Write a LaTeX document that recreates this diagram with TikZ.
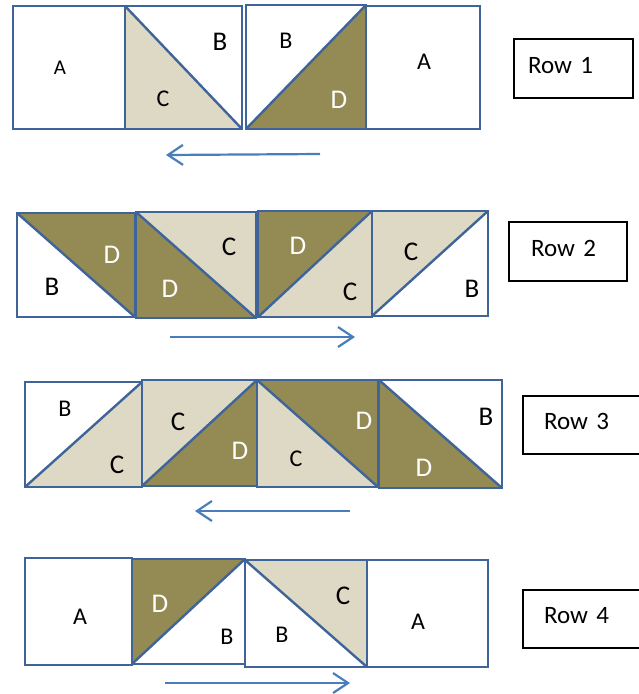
\documentclass[tikz,border=0pt]{standalone}
\usepackage{fontspec}
\setmainfont{Carlito}
\usetikzlibrary{arrows.meta}
\definecolor{qblue}{HTML}{3F649A}
\definecolor{qolive}{HTML}{948A54}
\definecolor{qbeige}{HTML}{DDD9C4}
\definecolor{qarrow}{HTML}{4A7EBB}
\tikzset{
  sqline/.style={draw=qblue, line width=2.4pt, line join=miter},
  ls/.style={font=\fontsize{21}{25}\selectfont, inner sep=0pt},
  lm/.style={font=\fontsize{24}{28}\selectfont, inner sep=0pt},
  ll/.style={font=\fontsize{27}{31}\selectfont, inner sep=0pt},
  wl/.style={text=white},
  rowbox/.style={draw=black, line width=1.8pt, rectangle, font=\fontsize{25}{29}\selectfont,
    align=left, inner ysep=0pt, text depth=7pt},
  flow/.style={draw=qarrow, line width=2.2pt, -{Straight Barb[length=15pt,width=20pt]}},
}
% square with diagonal from top-left to bottom-right
\newcommand\hstb[6]{%
  \fill[#5] (#1,#2) -- (#3,#2) -- (#3,#4) -- cycle;
  \fill[#6] (#1,#2) -- (#1,#4) -- (#3,#4) -- cycle;
  \draw[sqline] (#1,#2) rectangle (#3,#4);
  \draw[sqline] (#1,#2) -- (#3,#4);}
% square with diagonal from bottom-left to top-right
\newcommand\hstf[6]{%
  \fill[#5] (#1,#4) -- (#1,#2) -- (#3,#2) -- cycle;
  \fill[#6] (#1,#4) -- (#3,#4) -- (#3,#2) -- cycle;
  \draw[sqline] (#1,#2) rectangle (#3,#4);
  \draw[sqline] (#1,#4) -- (#3,#2);}
\newcommand\plainsq[4]{%
  \fill[white] (#1,#2) rectangle (#3,#4);
  \draw[sqline] (#1,#2) rectangle (#3,#4);}
\begin{document}
\begin{tikzpicture}[x=1pt,y=-1pt]
\useasboundingbox (0,0) rectangle (639,694);
\fill[white] (0,0) rectangle (639,694);

% ---------- Row 1 ----------
\plainsq{13}{6}{125}{129}
\hstb{125}{6}{242}{129}{white}{qbeige}
\hstf{246}{5}{366}{129}{white}{qolive}
\plainsq{366}{6}{480}{129}
\node[ls] (r1a1) at (60,68) {A};
\node[ll] (r1b1) at (220,42) {B};
\node[lm] (r1c1) at (163,99) {C};
\node[lm] (r1b2) at (286,41) {B};
\node[ll,wl] (r1d1) at (339,100) {D};
\node[lm] (r1a2) at (424,62) {A};
\node[rowbox, minimum width=119pt, minimum height=59pt, inner xsep=14pt, text width=91pt]
  (row1) at (573.5,68.5) {Row 1};
\coordinate (a1s) at (320,154);
\coordinate (a1e) at (166,155);
\draw[flow] (a1s) -- (a1e);

% ---------- Row 2 ----------
\hstb{17}{213}{135}{317}{qolive}{white}
\hstb{136}{212}{256}{318}{qbeige}{qolive}
\hstf{258}{211}{372}{317}{qolive}{qbeige}
\hstf{372}{211}{488}{316}{qbeige}{white}
\node[ll,wl] (r2d1) at (112,255) {D};
\node[ll] (r2b1) at (52,287) {B};
\node[ll] (r2c1) at (229,247) {C};
\node[ll,wl] (r2d2) at (170,289) {D};
\node[ll,wl] (r2d3) at (298,246) {D};
\node[ll] (r2c2) at (350,292) {C};
\node[ll] (r2c3) at (411,252) {C};
\node[ll] (r2b2) at (472,289) {B};
\node[rowbox, minimum width=118pt, minimum height=59pt, inner xsep=22pt, text width=74pt]
  (row2) at (568,251.5) {Row 2};
\coordinate (a2s) at (170,337);
\coordinate (a2e) at (355,337);
\draw[flow] (a2s) -- (a2e);

% ---------- Row 3 ----------
\hstf{25}{382}{142}{487}{white}{qbeige}
\hstf{142}{380}{257}{486}{qbeige}{qolive}
\hstb{257}{380}{378}{487}{qolive}{qbeige}
\hstb{379}{380}{502}{488}{white}{qolive}
\node[lm] (r3b1) at (65,409) {B};
\node[ll] (r3c1) at (117,465) {C};
\node[ll] (r3c2) at (178,422) {C};
\node[ll,wl] (r3d1) at (240,451) {D};
\node[lm] (r3c3) at (296,459) {C};
\node[ll,wl] (r3d2) at (364,421) {D};
\node[ll] (r3b2) at (486,417) {B};
\node[ll,wl] (r3d3) at (424,468) {D};
\node[rowbox, minimum width=118pt, minimum height=58pt, inner xsep=21pt, text width=76pt]
  (row3) at (582,425) {Row 3};
\coordinate (a3s) at (350,511);
\coordinate (a3e) at (195,511);
\draw[flow] (a3s) -- (a3e);

% ---------- Row 4 ----------
\plainsq{25}{558}{132}{665}
\hstf{132}{559}{245}{664}{qolive}{white}
\hstb{245}{560}{367}{667}{qbeige}{white}
\plainsq{367}{560}{488}{667}
\node[lm] (r4a1) at (80,617) {A};
\node[ll,wl] (r4d1) at (160,604) {D};
\node[lm] (r4b1) at (227,637) {B};
\node[lm] (r4b2) at (282,635) {B};
\node[ll] (r4c1) at (343,596) {C};
\node[lm] (r4a2) at (418,622) {A};
\node[rowbox, minimum width=118pt, minimum height=58pt, inner xsep=21pt, text width=76pt]
  (row4) at (582,619) {Row 4};
\coordinate (a4s) at (165,683);
\coordinate (a4e) at (350,683);
\draw[flow] (a4s) -- (a4e);
\end{tikzpicture}
\end{document}
